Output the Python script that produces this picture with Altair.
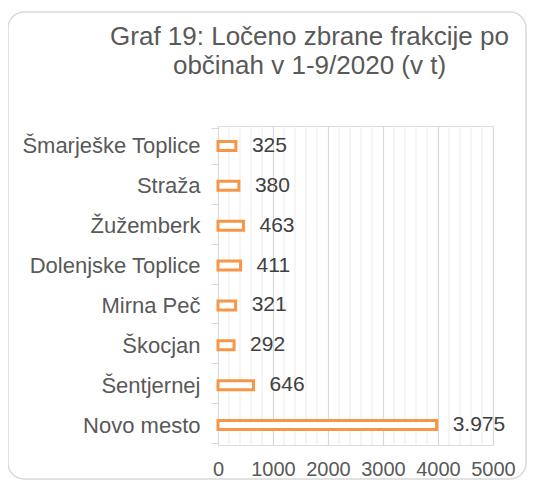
import altair as alt
import pandas as pd

municipalities = ["Šmarješke Toplice", "Straža", "Žužemberk", "Dolenjske Toplice",
                  "Mirna Peč", "Škocjan", "Šentjernej", "Novo mesto"]
values = [325, 380, 463, 411, 321, 292, 646, 3975]
value_labels = ["325", "380", "463", "411", "321", "292", "646", "3.975"]
major_ticks = [0, 1000, 2000, 3000, 4000, 5000]
minor_grid = [200, 400, 600, 800, 1200, 1400, 1600, 1800, 2200, 2400, 2600, 2800,
              3200, 3400, 3600, 3800, 4200, 4400, 4600, 4800]
title_lines = ["Graf 19: Ločeno zbrane frakcije po", "občinah v 1-9/2020 (v t)"]

df = pd.DataFrame({"obcina": municipalities, "t": values, "label": value_labels})
minor_df = pd.DataFrame({"t": minor_grid})

FONT = "Liberation Sans"
ORANGE = "#F79646"
W, H = 275, 319

x_scale = alt.Scale(domain=[0, 5000], nice=False)

y_enc = alt.Y("obcina:N", sort=None, title=None,
              axis=alt.Axis(labelFontSize=22, labelColor="#595959", labelFont=FONT,
                            domainColor="#d9d9d9", tickColor="#d9d9d9", tickSize=7,
                            tickBand="extent", labelPadding=11, grid=False,
                            labelLimit=300))
x_enc = alt.X("t:Q", title=None, scale=x_scale,
              axis=alt.Axis(values=major_ticks, format="d", labelOverlap=False,
                            labelFlush=False, labelBound=False,
                            labelFontSize=20, labelColor="#595959", labelFont=FONT,
                            labelPadding=14, ticks=False, domain=False, grid=True,
                            gridColor="#d9d9d9", gridWidth=1.2))

minor = alt.Chart(minor_df).mark_rule(color="#efefef", strokeWidth=1.2).encode(
    x=alt.X("t:Q", scale=x_scale, title=None), y=alt.value(0), y2=alt.value(H))

bars = alt.Chart(df).mark_bar(fill="white", stroke=ORANGE, strokeWidth=3, size=9).encode(
    x=x_enc, y=y_enc)

labels = alt.Chart(df).mark_text(align="left", baseline="middle", dx=16, fontSize=21,
                                 font=FONT, color="#404040").encode(
    x=alt.X("t:Q", title=None), y=alt.Y("obcina:N", sort=None, title=None), text="label:N")

frame = alt.Chart(pd.DataFrame({"a": [0]})).mark_rect(
    fill=None, stroke="#d9d9d9", strokeWidth=1.5, cornerRadius=16).encode(
    x=alt.value(-210), x2=alt.value(308), y=alt.value(-114), y2=alt.value(353))

chart = alt.layer(frame, minor, bars, labels).properties(
    width=W, height=H,
    title=alt.TitleParams(text=title_lines, fontSize=26, font=FONT, color="#595959",
                          fontWeight="normal", anchor="middle", dx=-46, lineHeight=29,
                          offset=0, dy=68),
    autosize=alt.AutoSizeParams(type="none"),
    padding={"left": 210, "top": 118, "right": 34, "bottom": 37},
).configure_view(stroke=None).configure(background="white")

chart.save("out.html", embed_options={"renderer": "svg", "actions": False})
